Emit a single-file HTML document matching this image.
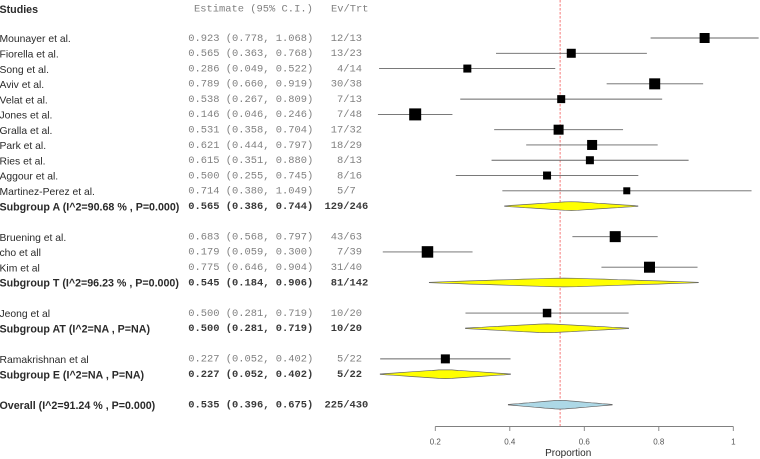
<!DOCTYPE html>
<html>
<head>
<meta charset="utf-8">
<title>Forest plot of proportions</title>
<style>
html,body{margin:0;padding:0;background:#fff;width:760px;height:459px;overflow:hidden}
svg{display:block;filter:blur(0.35px)}
text{white-space:pre}
.sans{font-family:"Liberation Sans",Arial,sans-serif;font-size:10.35px;fill:#2a2a2a}
.sansb{font-family:"Liberation Sans",Arial,sans-serif;font-size:10.68px;font-weight:bold;fill:#2a2a2a}
.mono{font-family:"Liberation Mono",monospace;font-size:10.43px;fill:#808080}
.monob{font-family:"Liberation Mono",monospace;font-size:10.43px;font-weight:bold;fill:#3a3a3a}
.tick{font-family:"Liberation Sans",Arial,sans-serif;font-size:8px;fill:#555}
.title{font-family:"Liberation Sans",Arial,sans-serif;font-size:10px;fill:#2a2a2a}
</style>
</head>
<body>
<svg id="chart" xmlns="http://www.w3.org/2000/svg" width="760" height="459" viewBox="0 0 760 459">
  <text class="sansb" x="-0.5" y="12.8">Studies</text>
  <text class="mono" x="194" y="11.5">Estimate (95% C.I.)</text>
  <text class="mono" x="331" y="11.5">Ev/Trt</text>
</svg>
<script>
// Row data; kind: s = study, g = subgroup summary, o = overall summary
const labels = ["Mounayer et al.","Fiorella et al.","Song et al.","Aviv et al.","Velat et al.","Jones et al.","Gralla et al.","Park et al.","Ries et al.","Aggour et al.","Martinez-Perez et al.","Subgroup A (I^2=90.68 % , P=0.000)","Bruening et al.","cho et all","Kim et al","Subgroup T (I^2=96.23 % , P=0.000)","Jeong et al","Subgroup AT (I^2=NA , P=NA)","Ramakrishnan et al","Subgroup E (I^2=NA , P=NA)","Overall (I^2=91.24 % , P=0.000)"];
const kinds = ["s","s","s","s","s","s","s","s","s","s","s","g","s","s","s","g","s","g","s","g","o"];
const rowSlots = [0,1,2,3,4,5,6,7,8,9,10,11,13,14,15,16,18,19,21,22,24];
const estimates = [0.923,0.565,0.286,0.789,0.538,0.146,0.531,0.621,0.615,0.500,0.714,0.565,0.683,0.179,0.775,0.545,0.500,0.500,0.227,0.227,0.535];
const lowers = [0.778,0.363,0.049,0.660,0.267,0.046,0.358,0.444,0.351,0.255,0.380,0.386,0.568,0.059,0.646,0.184,0.281,0.281,0.052,0.052,0.396];
const uppers = [1.068,0.768,0.522,0.919,0.809,0.246,0.704,0.797,0.880,0.745,1.049,0.744,0.797,0.300,0.904,0.906,0.719,0.719,0.402,0.402,0.675];
const events = [12,13,4,30,7,7,17,18,8,8,5,129,43,7,31,81,10,10,5,5,225];
const totals = [13,23,14,38,13,48,32,29,13,16,7,246,63,39,40,142,20,20,22,22,430];
const weights = [10,9,8,11,8,12,10,10,8,8,7,0,11,11.5,11,0,8.5,0,9,0,0];
const axisTicks = [0.2,0.4,0.6,0.8,1];
const overallEstimate = 0.535;

const svg = document.getElementById('chart');
const NS = 'http://www.w3.org/2000/svg';
const xScale = v => 435.3 + (v - 0.2) * 372.5;
const yScale = slot => 38 + slot * 15.28;
const make = (tag, parent) => { const el = document.createElementNS(NS, tag); parent.appendChild(el); return el; };
const slug = s => s.toLowerCase().replace(/[^a-z0-9]+/g, '-').replace(/^-|-$/g, '');

// Stair-stepped diamond outline, as in the source raster
function diamondPoints(lo, mid, hi, y, H) {
  const steps = 5;
  const top = [], bottom = [];
  const side = (edge) => {
    const out = [];
    for (let k = steps; k >= 1; k--) {
      const hOuter = H * (steps - k + 0.2) / steps;
      const hInner = H * (steps - k + 0.8) / steps;
      const a = mid + (edge - mid) * k / steps;
      const b = mid + (edge - mid) * (k - 0.5) / steps;
      out.push([a, hOuter], [b, hInner]);
    }
    return out;
  };
  const left = side(lo);
  const right = side(hi).reverse();
  const seq = [[lo, 0]].concat(left, [[mid, H]], right, [[hi, 0]]);
  seq.forEach(p => { top.push(p[0].toFixed(1) + ',' + (y - p[1]).toFixed(1)); });
  seq.slice().reverse().forEach(p => { bottom.push(p[0].toFixed(1) + ',' + (y + p[1]).toFixed(1)); });
  return top.concat(bottom).join(' ');
}

// Reference line
const refLine = make('line', svg);


refLine.setAttribute('x1', xScale(overallEstimate));
refLine.setAttribute('x2', xScale(overallEstimate));
refLine.setAttribute('y1', 0);
refLine.setAttribute('y2', 426);
refLine.setAttribute('stroke', '#f24040');
refLine.setAttribute('stroke-width', '0.7');
refLine.setAttribute('stroke-dasharray', '2.5 1.5');

labels.forEach((label, i) => {
  const y = yScale(rowSlots[i]);
  const isStudy = kinds[i] === 's';
  const key = slug(label.split('(')[0]);

  const name = make('text', svg);
  
  
  name.setAttribute('class', isStudy ? 'sans' : 'sansb');
  name.setAttribute('x', -0.5);
  name.setAttribute('y', y + 4.2);
  name.textContent = label;

  const ci = make('text', svg);
  
  
  ci.setAttribute('class', isStudy ? 'mono' : 'monob');
  ci.setAttribute('x', 188.2);
  ci.setAttribute('y', y + 2.8);
  ci.textContent = estimates[i].toFixed(3) + ' (' + lowers[i].toFixed(3) + ', ' + uppers[i].toFixed(3) + ')';

  const ev = make('text', svg);
  const evText = events[i] + '/' + totals[i];
  
  
  ev.setAttribute('class', isStudy ? 'mono' : 'monob');
  ev.setAttribute('x', 324.5 + Math.ceil((7 - evText.length) / 2) * 6.26);
  ev.setAttribute('y', y + 2.8);
  ev.textContent = evText;

  const whisker = make('line', svg);
  
  
  whisker.setAttribute('x1', xScale(lowers[i]));
  whisker.setAttribute('x2', xScale(uppers[i]));
  whisker.setAttribute('y1', y);
  whisker.setAttribute('y2', y);
  whisker.setAttribute('stroke', '#666');
  whisker.setAttribute('stroke-width', '0.9');

  if (isStudy) {
    const size = weights[i];
    const box = make('rect', svg);
    
    
    box.setAttribute('x', xScale(estimates[i]) - size / 2);
    box.setAttribute('y', y - size / 2);
    box.setAttribute('width', size);
    box.setAttribute('height', size);
    box.setAttribute('fill', '#000');
  } else {
    const poly = make('polygon', svg);
    
    
    poly.setAttribute('points', diamondPoints(xScale(lowers[i]), xScale(estimates[i]), xScale(uppers[i]), y, 4.4));
    poly.setAttribute('fill', kinds[i] === 'o' ? '#add8e6' : '#ffff00');
    poly.setAttribute('stroke', '#666');
    poly.setAttribute('stroke-width', '0.7');
  }
});

// X axis
const axisY = 426.5;
const axisLine = make('line', svg);


axisLine.setAttribute('x1', xScale(axisTicks[0]));
axisLine.setAttribute('x2', xScale(axisTicks[axisTicks.length - 1]));
axisLine.setAttribute('y1', axisY);
axisLine.setAttribute('y2', axisY);
axisLine.setAttribute('stroke', '#808080');
axisLine.setAttribute('stroke-width', '1');

axisTicks.forEach(t => {
  const mark = make('line', svg);
  
  
  mark.setAttribute('x1', xScale(t));
  mark.setAttribute('x2', xScale(t));
  mark.setAttribute('y1', axisY);
  mark.setAttribute('y2', axisY + 4.5);
  mark.setAttribute('stroke', '#808080');
  mark.setAttribute('stroke-width', '0.9');

  const tickLabel = make('text', svg);
  
  
  tickLabel.setAttribute('class', 'tick');
  tickLabel.setAttribute('x', xScale(t));
  tickLabel.setAttribute('y', 444.5);
  tickLabel.setAttribute('text-anchor', 'middle');
  tickLabel.textContent = String(t);
});

const axisTitle = make('text', svg);


axisTitle.setAttribute('class', 'title');
axisTitle.setAttribute('x', 568.2);
axisTitle.setAttribute('y', 455.8);
axisTitle.setAttribute('text-anchor', 'middle');
axisTitle.textContent = 'Proportion';
</script>
</body>
</html>
